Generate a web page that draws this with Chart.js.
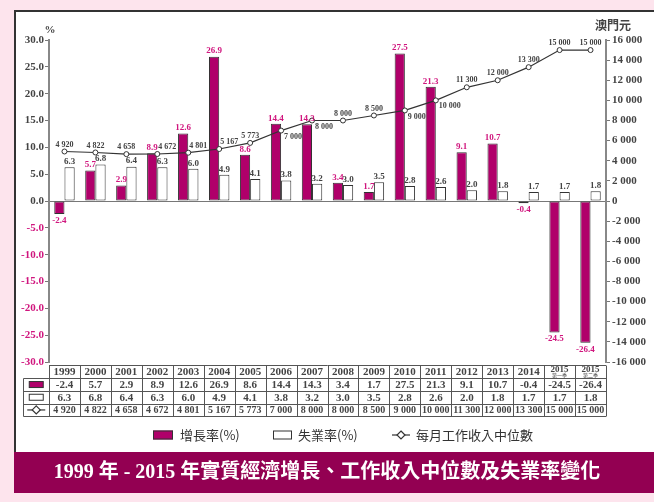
<!DOCTYPE html>
<html>
<head>
<meta charset="utf-8">
<script src="https://cdn.jsdelivr.net/npm/chart.js@4.4.0/dist/chart.umd.min.js"></script>
<style>
  html, body { margin: 0; padding: 0; background: #fde4ed; }
  #wrap { width: 654px; height: 502px; }
</style>
</head>
<body>
<div id="wrap"><canvas id="econChart" width="654" height="502"></canvas></div>
<script>
// data
var categories = ['1999', '2000', '2001', '2002', '2003', '2004', '2005', '2006', '2007', '2008',
    '2009', '2010', '2011', '2012', '2013', '2014', '2015 第一季', '2015 第二季'];
var growthRate = [-2.4, 5.7, 2.9, 8.9, 12.6, 26.9, 8.6, 14.4, 14.3, 3.4, 1.7, 27.5, 21.3, 9.1, 10.7, -0.4, -24.5, -26.4];
var unemploymentRate = [6.3, 6.8, 6.4, 6.3, 6.0, 4.9, 4.1, 3.8, 3.2, 3.0, 3.5, 2.8, 2.6, 2.0, 1.8, 1.7, 1.7, 1.8];
var medianIncome = [4920, 4822, 4658, 4672, 4801, 5167, 5773, 7000, 8000, 8000, 8500, 9000, 10000, 11300, 12000, 13300, 15000, 15000];

// where each income label sits next to its point
var incomeLabelSide = ['top', 'top', 'top', 'right', 'right', 'right', 'top', 'below', 'below', 'top',
    'top', 'below', 'below', 'top', 'top', 'top', 'top', 'top'];

var titleText = '1999 年 - 2015 年實質經濟增長、工作收入中位數及失業率變化';

var serif = '"Liberation Serif", "Times New Roman", serif';
var cjk = '"Noto Sans CJK TC", "Noto Sans CJK SC", sans-serif';
var barColor = '#b0006a';
var pinkText = '#d0167e';
var grey = '#444';

function spaced(n) {
    return String(n).replace(/\B(?=(\d{3})+(?!\d))/g, ' ');
}

var decorPlugin = {
    id: 'decor',
    beforeDraw: function(chart) {
        var c = chart.ctx;
        c.save();
        c.fillStyle = '#fde4ed';
        c.fillRect(0, 0, chart.width, chart.height);
        c.fillStyle = '#ffffff';
        c.fillRect(14, 10, chart.width - 14, 442);
        c.fillStyle = '#930052';
        c.fillRect(14, 452, chart.width - 14, 41);
        c.strokeStyle = '#333';
        c.lineWidth = 2;
        c.beginPath();
        c.moveTo(15, 452);
        c.lineTo(15, 11);
        c.lineTo(chart.width, 11);
        c.stroke();
        c.restore();
    },
    afterDatasetsDraw: function(chart) {
        var c = chart.ctx;
        c.save();
        // bar value labels
        c.font = 'bold 9px ' + serif;
        c.textAlign = 'center';
        chart.getDatasetMeta(1).data.forEach(function(bar, i) {
            c.fillStyle = pinkText;
            if (growthRate[i] >= 0) {
                c.textBaseline = 'bottom';
                c.fillText(growthRate[i].toFixed(1), bar.x, bar.y - 1);
            } else {
                c.textBaseline = 'top';
                c.fillText(growthRate[i].toFixed(1), bar.x, bar.y + 2);
            }
        });
        chart.getDatasetMeta(2).data.forEach(function(bar, i) {
            c.fillStyle = grey;
            c.textBaseline = 'bottom';
            c.fillText(unemploymentRate[i].toFixed(1), bar.x, bar.y - 1);
        });
        // income labels
        c.font = 'bold 8px ' + serif;
        c.fillStyle = grey;
        chart.getDatasetMeta(0).data.forEach(function(pt, i) {
            var txt = spaced(medianIncome[i]);
            var side = incomeLabelSide[i];
            if (side === 'top') {
                c.textAlign = 'center';
                c.textBaseline = 'bottom';
                c.fillText(txt, pt.x, pt.y - 3);
            } else if (side === 'right') {
                c.textAlign = 'left';
                c.textBaseline = 'bottom';
                c.fillText(txt, pt.x + 1, pt.y - 3);
            } else {
                c.textAlign = 'left';
                c.textBaseline = 'top';
                c.fillText(txt, pt.x + 3, pt.y + 2);
            }
        });
        c.restore();
    },
    afterDraw: function(chart) {
        var c = chart.ctx;
        var area = chart.chartArea;
        var xs = chart.scales.x;
        var n = categories.length;
        var colW = (area.right - area.left) / n;
        c.save();

        // axis titles
        c.fillStyle = grey;
        c.textAlign = 'center';
        c.textBaseline = 'middle';
        c.font = 'bold 11px ' + serif;
        c.fillText('%', area.left + 1, 30);
        c.font = 'bold 12px ' + cjk;
        c.fillText('澳門元', area.right + 7, 25);

        // data table under the plot
        var top = area.bottom + 3.5;
        var rowH = 12.7;
        var iconLeft = 23.5;
        c.strokeStyle = '#555';
        c.lineWidth = 1;
        c.beginPath();
        c.moveTo(area.left, top);
        c.lineTo(area.right, top);
        for (var r = 1; r <= 4; r++) {
            var yy = Math.round(top + r * rowH) + 0.5;
            c.moveTo(iconLeft, yy);
            c.lineTo(area.right, yy);
        }
        var bottom = Math.round(top + 4 * rowH) + 0.5;
        c.moveTo(iconLeft, Math.round(top + rowH) + 0.5);
        c.lineTo(iconLeft, bottom);
        for (var k = 0; k <= n; k++) {
            var xx = Math.round(area.left + k * colW) + 0.5;
            c.moveTo(xx, top);
            c.lineTo(xx, bottom);
        }
        c.stroke();

        c.fillStyle = grey;
        c.textAlign = 'center';
        c.textBaseline = 'middle';
        for (var i = 0; i < n; i++) {
            var cx = xs.getPixelForValue(i);
            var parts = categories[i].split(' ');
            if (parts.length > 1) {
                c.font = 'bold 9px ' + serif;
                c.fillText(parts[0], cx, top + 3.8);
                c.font = '5px ' + cjk;
                c.fillText(parts[1], cx, top + 9.8);
            } else {
                c.font = 'bold 11px ' + serif;
                c.fillText(parts[0], cx, top + rowH / 2 + 0.5);
            }
            c.font = 'bold 11px ' + serif;
            c.fillText(growthRate[i].toFixed(1), cx, top + rowH * 1.5 + 0.5);
            c.fillText(unemploymentRate[i].toFixed(1), cx, top + rowH * 2.5 + 0.5);
            c.font = 'bold 10px ' + serif;
            c.fillText(spaced(medianIncome[i]), cx, top + rowH * 3.5 + 0.5);
        }

        // icons in the first table column
        var ic = (iconLeft + area.left) / 2;
        c.lineWidth = 1;
        c.strokeStyle = '#333';
        c.fillStyle = barColor;
        var r1 = top + rowH * 1.5;
        c.fillRect(ic - 7, r1 - 3, 14, 6);
        c.strokeRect(ic - 7, r1 - 3, 14, 6);
        var r2 = top + rowH * 2.5;
        c.fillStyle = '#fff';
        c.fillRect(ic - 7, r2 - 3, 14, 6);
        c.strokeRect(ic - 7, r2 - 3, 14, 6);
        var r3 = top + rowH * 3.5;
        drawLineIcon(c, ic, r3, 9);

        // legend
        var ly = 435;
        var lx = area.left + 104;
        c.fillStyle = barColor;
        c.fillRect(lx, ly - 4.5, 20, 9);
        c.strokeStyle = '#333';
        c.strokeRect(lx + 0.5, ly - 4, 19, 8);
        c.fillStyle = '#333';
        c.font = '13px ' + cjk;
        c.textAlign = 'left';
        c.textBaseline = 'middle';
        c.fillText('增長率(%)', lx + 27, ly);
        c.fillStyle = '#fff';
        c.fillRect(lx + 120, ly - 4.5, 19, 9);
        c.strokeRect(lx + 120.5, ly - 4, 18, 8);
        c.fillStyle = '#333';
        c.fillText('失業率(%)', lx + 145, ly);
        drawLineIcon(c, lx + 248, ly, 9);
        c.fillStyle = '#333';
        c.fillText('每月工作收入中位數', lx + 263, ly);

        c.restore();
    }
};

function drawLineIcon(c, cx, cy, half) {
    c.save();
    c.strokeStyle = '#333';
    c.lineWidth = 1.2;
    c.beginPath();
    c.moveTo(cx - half, cy);
    c.lineTo(cx + half, cy);
    c.stroke();
    c.fillStyle = '#fff';
    c.beginPath();
    c.moveTo(cx, cy - 4);
    c.lineTo(cx + 4, cy);
    c.lineTo(cx, cy + 4);
    c.lineTo(cx - 4, cy);
    c.closePath();
    c.fill();
    c.stroke();
    c.restore();
}

var ctx = document.getElementById('econChart').getContext('2d');
var econChart = new Chart(ctx, {
    type: 'bar',
    data: {
        labels: categories,
        datasets: [{
            type: 'line',
            label: '每月工作收入中位數',
            data: medianIncome,
            yAxisID: 'y1',
            borderColor: '#333',
            borderWidth: 1.2,
            pointRadius: 2.5,
            pointBackgroundColor: '#fff',
            pointBorderColor: '#333',
            pointBorderWidth: 1,
            tension: 0,
            order: 0
        }, {
            label: '增長率(%)',
            data: growthRate,
            yAxisID: 'y',
            backgroundColor: barColor,
            borderColor: '#333',
            borderWidth: 1,
            borderSkipped: false,
            categoryPercentage: 0.66,
            barPercentage: 1.0,
            order: 1
        }, {
            label: '失業率(%)',
            data: unemploymentRate,
            yAxisID: 'y',
            backgroundColor: '#fff',
            borderColor: '#333',
            borderWidth: 1,
            borderSkipped: false,
            categoryPercentage: 0.66,
            barPercentage: 1.0,
            order: 1
        }]
    },
    options: {
        responsive: false,
        animation: false,
        layout: { padding: { top: 40, left: 0, right: 0, bottom: 0 } },
        plugins: {
            legend: { display: false },
            tooltip: { enabled: false },
            title: {
                display: true,
                position: 'bottom',
                text: titleText,
                color: '#fff',
                font: { family: '"Liberation Serif", "Noto Sans CJK TC", serif', size: 20, weight: 'bold' },
                padding: { top: 6, bottom: 17 }
            }
        },
        scales: {
            x: {
                ticks: { display: false },
                grid: { display: false },
                border: { display: false },
                afterFit: function(scale) { scale.height = 93; }
            },
            y: {
                position: 'left',
                min: -30,
                max: 30,
                ticks: {
                    stepSize: 5,
                    padding: 1,
                    font: { family: serif, size: 11, weight: 'bold' },
                    color: function(c) { return c.tick.value < 0 ? pinkText : grey; },
                    callback: function(v) { return v.toFixed(1); }
                },
                grid: {
                    color: function(c) { return c.tick.value === 0 ? '#777' : 'rgba(0,0,0,0)'; },
                    tickColor: '#777',
                    tickLength: 4
                },
                border: { color: '#888', width: 2 },
                afterFit: function(scale) { scale.width = 49; }
            },
            y1: {
                position: 'right',
                min: -16000,
                max: 16000,
                ticks: {
                    stepSize: 2000,
                    padding: 2,
                    font: { family: serif, size: 11, weight: 'bold' },
                    color: grey,
                    callback: function(v) { return spaced(v); }
                },
                grid: { drawOnChartArea: false, tickColor: '#777', tickLength: 4 },
                border: { color: '#888', width: 2 },
                afterFit: function(scale) { scale.width = 48; }
            }
        }
    },
    plugins: [decorPlugin]
});
</script>
</body>
</html>
